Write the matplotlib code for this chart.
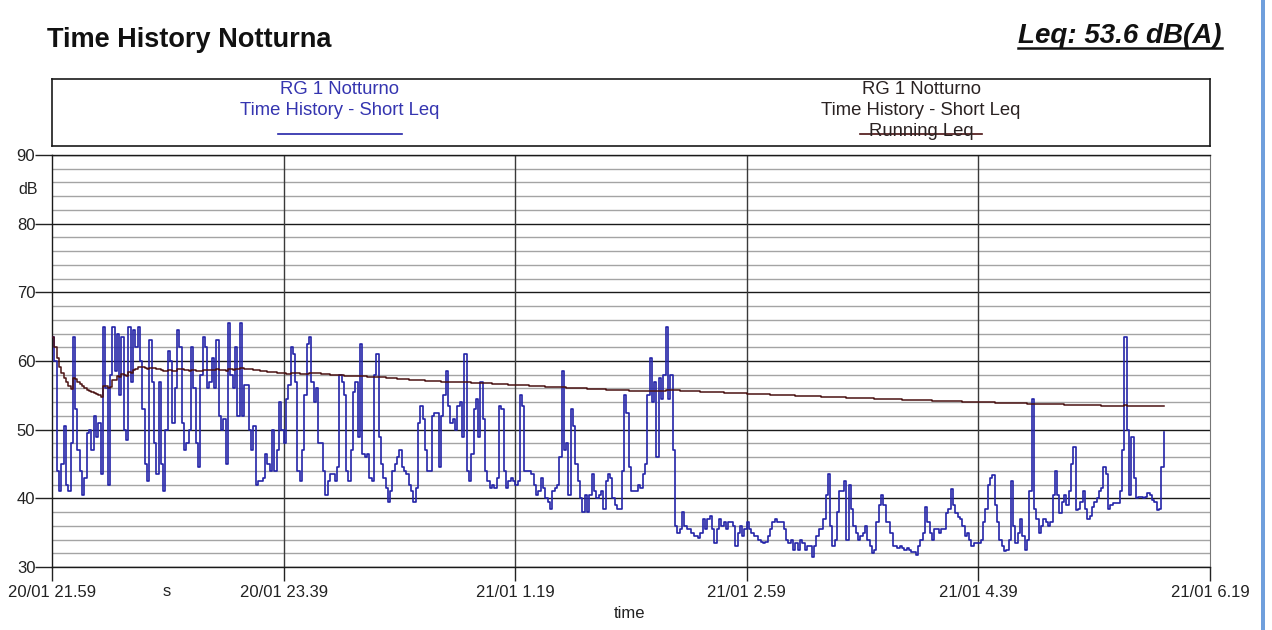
import numpy as np
import matplotlib
matplotlib.use("Agg")
import matplotlib.pyplot as plt
from matplotlib.lines import Line2D
from matplotlib.patches import Rectangle

plt.rcParams['font.family'] = ['Liberation Sans', 'DejaVu Sans']

# ---------------- data (Short Leq, 1-minute values, dB(A)) ----------------
short_leq_part1 = [63.5, 60, 44, 41, 45, 50.5, 42, 41, 48, 63.5,
                   53, 47, 44, 40.5, 43, 49.5, 50, 47, 52, 49,
                   51, 43.5, 65, 56, 42, 58, 65, 58.5, 64, 55,
                   63.5, 50, 48.5, 65, 57, 64.5, 62, 65, 60, 53,
                   45, 42.5, 63, 57, 48, 43.5, 57, 45, 41, 50,
                   61.5, 60, 51, 56, 64.5, 62, 51, 47, 48, 50,
                   62, 56, 48, 44.5, 58, 63.5, 62, 56, 57, 60.5,
                   56, 63, 52, 50, 51.5, 45, 65.5, 58, 56, 62,
                   52]
short_leq_part2 = [65.5, 52, 56.5, 56.5, 50, 47, 50.5, 42, 42.5, 42.5,
                   43, 46.5, 45, 44, 50, 44, 47, 54, 50, 48,
                   54.5, 56.5, 62, 61, 57, 44, 42.5, 47, 55, 62.5,
                   63.5, 57, 54, 56, 48, 48, 44, 40.5, 42.5, 43.5,
                   43.5, 42.5, 44.5, 58, 57, 55, 44, 42.5, 47, 55.5,
                   57, 49, 62.5, 46.5, 46, 46.5, 43, 42.5, 58, 61,
                   49, 45, 43, 41.5, 39.5, 41, 44, 45, 46, 47,
                   44.5, 44, 43.5, 42, 41, 39.5, 41.5, 51, 53.5, 51.5,
                   47, 44]
short_leq_part3 = [44, 52, 52.5, 52.5, 44.5, 52, 55, 58.5, 53.5, 51,
                   51.5, 50, 53.5, 54, 49, 61, 44, 42.5, 46.5, 53,
                   54.5, 49, 57, 51.5, 44, 42.5, 41.5, 42, 41.5, 43,
                   53.5, 53, 44, 41.5, 42.5, 43, 42.5, 42, 42.5, 55,
                   53.5, 44, 44, 44, 43.5, 42, 40.5, 41, 43, 41.5,
                   40, 39.5, 38.5, 41, 41.5, 42, 46, 58.5, 47, 48,
                   40.5, 53, 50.5, 45, 42.5, 40, 38, 40.5, 38, 40.5,
                   43.5, 41, 40, 40.5, 41, 38.5, 42.5, 43.5, 43, 40,
                   39, 38.5]
short_leq_part4 = [38.5, 44, 55, 52.5, 44.5, 41, 41, 41, 42, 41.5,
                   43.5, 45, 55, 60.5, 54, 57, 46, 57.5, 54.5, 58,
                   65, 54.5, 58, 47, 36, 35, 35.5, 38, 36, 35.5,
                   35.5, 35, 34.5, 34.5, 34.2, 35, 37, 35.5, 37, 37.5,
                   35.5, 33.5, 35.5, 37, 36, 36.5, 35.5, 36.5, 36.5, 36,
                   33, 35, 36, 34.5, 35.5, 36.5, 35.5, 35, 34.5, 34.5,
                   34, 33.7, 33.5, 33.7, 34.5, 35.5, 36.5, 37, 36.5, 36.5,
                   36.5, 35.5, 34, 33.5, 34, 32.5, 33.5, 32.5, 34, 33.5,
                   32.5, 33]
short_leq_part5 = [33, 31.5, 33, 34.5, 35.5, 35.5, 37, 40.5, 43.5, 36,
                   33, 34, 38, 41, 41, 42.5, 34, 42, 38.5, 36,
                   35, 34, 34.5, 35, 36, 34, 33, 32, 32.5, 36.5,
                   39, 40.5, 39, 36.5, 36.5, 35, 33, 33, 32.7, 33,
                   32.7, 32.5, 32.7, 32.5, 32.2, 32.2, 31.8, 33, 34, 35,
                   38.7, 36.5, 35, 34, 35.5, 35.5, 35, 35.5, 35.5, 37.8,
                   38.5, 41.3, 39, 37.8, 37.3, 37, 36, 34.5, 35, 34,
                   33, 33.5, 33.5, 33.5, 34, 36.5, 38.5, 42, 43, 43.4,
                   39, 36.5]
short_leq_part6 = [34, 33, 32.3, 32.5, 34, 42.5, 36, 33.5, 35, 37,
                   34.5, 32.5, 34, 41, 54.5, 38.5, 37, 35, 36, 37,
                   36.5, 36, 36.5, 40.5, 44, 40.5, 37.8, 39.5, 40.5, 39,
                   41, 45, 47.5, 38.3, 38.5, 39.5, 41, 38.5, 37, 37.5,
                   38.7, 39.5, 40, 41, 41.5, 44.5, 43.5, 38.5, 39, 39.3,
                   39.3, 39.3, 41, 47, 63.5, 50, 40.5, 49, 43, 40,
                   40.2, 40.2, 40, 40.2, 40.8, 40.5, 39.8, 39.5, 38.3, 38.5,
                   44.5, 49.7]

sample_step_min = 1.0
x_tick_minutes = [0, 100, 200, 300, 400, 500]
x_tick_labels = ['20/01 21.59', '20/01 23.39', '21/01 1.19',
                 '21/01 2.59', '21/01 4.39', '21/01 6.19']
y_ticks = [30, 40, 50, 60, 70, 80, 90]

short_leq = np.array(short_leq_part1 + short_leq_part2 + short_leq_part3 +
                     short_leq_part4 + short_leq_part5 + short_leq_part6, float)
t = np.arange(len(short_leq)) * sample_step_min
# running Leq = cumulative energy average
running_leq = 10 * np.log10(np.cumsum(10 ** (short_leq / 10)) / np.arange(1, len(short_leq) + 1))

# ---------------- figure ----------------
W, H = 1272, 630
fig = plt.figure(figsize=(W / 100, H / 100), dpi=100)
fig.patch.set_facecolor('white')

def fx(x):
    return x / W

def fy(y):
    return 1 - y / H

ax = fig.add_axes([fx(52), fy(567), (1210 - 52) / W, (567 - 155) / H])
ax.set_xlim(0, 500)
ax.set_ylim(30, 90)

# grid
for v in np.arange(32, 90, 2):
    if v % 10:
        ax.axhline(v, color='#a4a4a4', lw=1.0, zorder=1)
for v in y_ticks:
    ax.axhline(v, color='#1a1a1a', lw=1.0, zorder=1.5)
for v in x_tick_minutes[1:-1]:
    ax.axvline(v, color='#3a3a3a', lw=1.0, zorder=1.5)

blue = '#2424a8'
brown = '#4a1212'
ax.plot(t, short_leq, drawstyle='steps-post', color=blue, lw=1.2, zorder=3)
ax.plot(t, running_leq, drawstyle='steps-post', color=brown, lw=1.1, zorder=4)

ax.set_xticks(x_tick_minutes)
ax.set_xticklabels(x_tick_labels)
ax.set_yticks(y_ticks)
ax.tick_params(axis='y', length=12, width=1, pad=0, labelsize=12, colors='#222222')
ax.tick_params(axis='x', length=10, width=1, pad=3, labelsize=12, colors='#222222')
for s in ['left', 'bottom', 'top']:
    ax.spines[s].set_color('#1a1a1a')
    ax.spines[s].set_linewidth(1.0)
ax.spines['right'].set_color('#777777')

fig.text(fx(28), fy(190), 'dB', ha='center', va='center', fontsize=11.5, color='#222222')
fig.text(fx(167), fy(591), 's', ha='center', va='center', fontsize=12, color='#222222')
fig.text(fx(630), fy(613), 'time', ha='center', va='center', fontsize=12, color='#222222')

# legend box
lax = fig.add_axes([fx(52), fy(146), (1210 - 52) / W, (146 - 79) / H])
lax.set_xlim(52, 1210)
lax.set_ylim(146, 79)
lax.set_xticks([])
lax.set_yticks([])
for s in lax.spines.values():
    s.set_color('#1a1a1a')
    s.set_linewidth(1.2)
lfs = 13.3
lcol = '#3535b0'
lax.text(340, 89.5, 'RG 1 Notturno', ha='center', va='center', fontsize=lfs, color=lcol)
lax.text(340, 110, 'Time History - Short Leq', ha='center', va='center', fontsize=lfs, color=lcol)
lax.plot([278, 402], [134, 134], color=blue, lw=1.2)
rcol = '#2a2222'
lax.text(921, 89.5, 'RG 1 Notturno', ha='center', va='center', fontsize=lfs, color=rcol)
lax.text(921, 110, 'Time History - Short Leq', ha='center', va='center', fontsize=lfs, color=rcol)
lax.text(921, 131, 'Running Leq', ha='center', va='center', fontsize=lfs, color=rcol)
lax.plot([860, 982], [134, 134], color=brown, lw=1.2)

# titles
fig.text(fx(47), fy(47), 'Time History Notturna', ha='left', va='baseline',
         fontsize=19.5, fontweight='bold', color='#111111')
fig.text(fx(1222), fy(43), 'Leq: 53.6 dB(A)', ha='right', va='baseline',
         fontsize=20, fontweight='bold', fontstyle='italic', color='#111111')
fig.add_artist(Line2D([fx(1018), fx(1222)], [fy(48), fy(48)], color='#111111', lw=1.8))

# window edge at right
fig.add_artist(Rectangle((fx(1261), 0), 4 / W, 1, color='#6f9fdc', lw=0))

fig.savefig('out.png', dpi=100)
